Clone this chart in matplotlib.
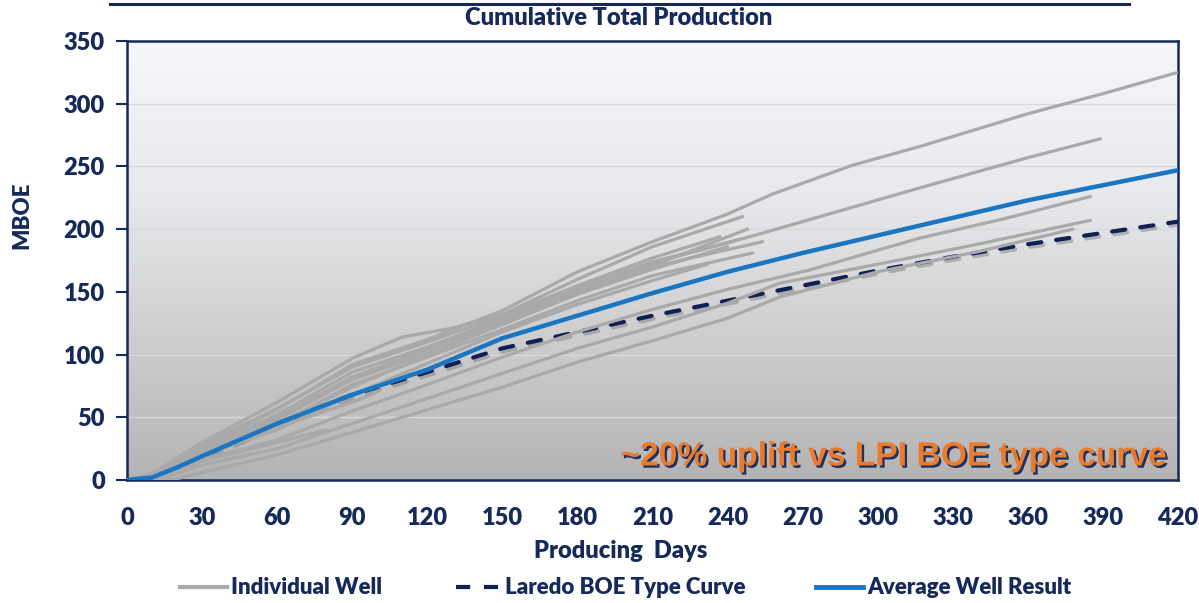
import numpy as np
import matplotlib
matplotlib.use("Agg")
import matplotlib.pyplot as plt
import matplotlib.patheffects as pe
from matplotlib.colors import LinearSegmentedColormap
from matplotlib.lines import Line2D

# ---------------- data ----------------
x_ticks = list(range(0, 421, 30))
y_ticks = list(range(0, 351, 50))

avg_days = [0, 10, 20, 30, 60, 90, 120, 150, 180, 210, 240, 270, 300, 330, 360, 390, 420]
avg_mboe = [0, 2, 10, 19, 45, 68, 88, 113, 131, 149, 166, 181, 195, 209, 223, 235, 247]

type_days = [0, 10, 20, 30, 60, 90, 120, 150, 180, 210, 240, 270, 300, 330, 360, 390, 420]
type_mboe = [0, 2, 10, 19, 45, 68, 86, 105, 118, 131, 143, 155, 167, 178, 188, 197, 206]

well_a_days = [0, 10, 30, 60, 90, 110, 130, 150, 180, 210, 246]
well_a_mboe = [0, 5, 30, 62, 97, 114, 121, 132, 160, 186, 210]
well_b_days = [0, 10, 30, 60, 90, 120, 150, 180, 210, 237]
well_b_mboe = [0, 4, 28, 57, 90, 110, 131, 155, 177, 194]
well_c_days = [0, 10, 30, 60, 90, 120, 150, 180, 210, 254]
well_c_mboe = [0, 3, 24, 50, 82, 104, 126, 150, 170, 190]
well_d_days = [0, 10, 30, 60, 90, 120, 150, 180, 210, 250]
well_d_mboe = [0, 3, 22, 44, 76, 98, 120, 143, 163, 181]
well_e_days = [0, 10, 30, 60, 90, 120, 150, 180, 210, 245]
well_e_mboe = [0, 4, 26, 52, 86, 106, 129, 153, 174, 192]
well_f_days = [0, 10, 30, 60, 90, 120, 150, 180, 210, 240]
well_f_mboe = [0, 3, 22, 45, 74, 100, 124, 148, 168, 186]
well_g_days = [0, 10, 30, 60, 90, 120, 150, 180, 210, 232]
well_g_mboe = [0, 2, 20, 40, 68, 93, 118, 140, 159, 172]
well_h_days = [0, 10, 30, 60, 90, 120, 150, 180, 210, 248]
well_h_mboe = [0, 3, 23, 48, 80, 101, 124, 149, 171, 200]
well_l1_days = [0, 10, 30, 60, 90, 120, 150, 180, 210, 240, 258, 290, 317, 360, 390, 420]
well_l1_mboe = [0, 4, 27, 56, 92, 112, 135, 166, 190, 212, 228, 251, 266, 292, 308, 325]
well_l2_days = [0, 10, 30, 60, 90, 120, 150, 180, 210, 240, 256, 317, 360, 389]
well_l2_mboe = [0, 3, 24, 48, 82, 104, 127, 152, 173, 189, 198, 233, 257, 272]
well_l3_days = [0, 10, 30, 60, 90, 120, 150, 180, 210, 240, 272, 317, 350, 385]
well_l3_mboe = [0, 2, 16, 32, 55, 76, 98, 118, 136, 152, 167, 193, 208, 226]
well_l4_days = [0, 15, 30, 60, 90, 120, 150, 180, 210, 240, 261, 300, 340, 385]
well_l4_mboe = [0, 2, 12, 25, 45, 65, 85, 105, 122, 141, 157, 172, 188, 207]
well_l5_days = [0, 20, 30, 60, 90, 120, 150, 180, 210, 240, 261, 300, 340, 378]
well_l5_mboe = [0, 1, 6, 20, 38, 56, 74, 94, 111, 129, 146, 166, 182, 200]
well_s1_days = [0, 15, 30, 60, 80]
well_s1_mboe = [0, 3, 15, 30, 40]
well_s2_days = [0, 10, 30, 60, 90, 100]
well_s2_mboe = [0, 3, 20, 42, 62, 70]

wells = [
    (well_a_days, well_a_mboe), (well_b_days, well_b_mboe),
    (well_c_days, well_c_mboe), (well_d_days, well_d_mboe),
    (well_e_days, well_e_mboe), (well_f_days, well_f_mboe),
    (well_g_days, well_g_mboe), (well_h_days, well_h_mboe),
    (well_l1_days, well_l1_mboe), (well_l2_days, well_l2_mboe),
    (well_l3_days, well_l3_mboe), (well_l4_days, well_l4_mboe),
    (well_l5_days, well_l5_mboe), (well_s1_days, well_s1_mboe),
    (well_s2_days, well_s2_mboe),
]

title = "Cumulative Total Production"
x_label = "Producing  Days"
y_label = "MBOE"
annotation = "~20% uplift vs LPI BOE type curve"
legend_labels = ["Individual Well", "Laredo BOE Type Curve", "Average Well Result"]

# ---------------- style ----------------
NAVY = "#15295a"
GRAY = "#a9a9a9"
BLUE = "#1b76c2"
DASH = "#0f2055"
ORANGE = "#ea7b2c"
FONT = ["Lato", "DejaVu Sans"]
W, H = 1199, 603

plt.rcParams["font.family"] = FONT

fig = plt.figure(figsize=(W / 100, H / 100), dpi=100)
fig.patch.set_facecolor("white")
ax = fig.add_axes([127 / W, 1 - 480 / H, (1178 - 127) / W, (480 - 41) / H])

# gradient background
cmap = LinearSegmentedColormap.from_list(
    "bg", [(0.0, "#b4b4b5"), (0.35, "#d0d0d2"), (0.65, "#e8e9ec"), (1.0, "#f6f7fa")])
grad = np.linspace(0, 1, 256).reshape(-1, 1)
ax.imshow(grad, cmap=cmap, aspect="auto", origin="lower",
          extent=[0, 420, 0, 350], zorder=0, interpolation="bicubic")

for yv in y_ticks[1:-1]:
    ax.axhline(yv, color="#d9d9dc", lw=1.0, zorder=1)

# type curve (with shadow)
ax.plot(type_days, type_mboe, color=DASH, lw=3.0, ls=(0, (3.2, 3.6)),
        dash_capstyle="round", zorder=2,
        path_effects=[pe.SimpleLineShadow(offset=(1.5, -2), shadow_color="#777777", alpha=0.45),
                      pe.Normal()])

for d, v in wells:
    ax.plot(d, v, color=GRAY, lw=2.3, zorder=3, solid_capstyle="round")

ax.plot(avg_days, avg_mboe, color=BLUE, lw=3.2, zorder=4, solid_capstyle="round")

ax.set_xlim(0, 420)
ax.set_ylim(0, 350)
ax.set_xticks(x_ticks)
ax.set_yticks(y_ticks)
ax.tick_params(axis="x", length=0, pad=19.5, labelsize=17, labelcolor=NAVY)
ax.tick_params(axis="y", length=8, width=1.5, color=NAVY, pad=8, labelsize=17, labelcolor=NAVY)
for lab in ax.get_xticklabels() + ax.get_yticklabels():
    lab.set_fontweight("heavy")
for s in ax.spines.values():
    s.set_color(NAVY)
    s.set_linewidth(1.8)

# annotation
txt = ax.text(416, 6, annotation, ha="right", va="bottom", fontsize=24.2,
              fontweight="bold", color=ORANGE,
              family=["Liberation Sans", "DejaVu Sans"], zorder=6)
txt.set_path_effects([pe.withSimplePatchShadow(offset=(1.6, -1.6), shadow_rgbFace=NAVY, alpha=0.95)])

# title and top rule
fig.add_artist(Line2D([110 / W, 1129 / W], [1 - 4 / H, 1 - 4 / H],
                      color=NAVY, lw=2.2, transform=fig.transFigure))
fig.text(619 / W, 1 - 18 / H, title, ha="center", va="center",
         fontsize=17, fontweight="heavy", color=NAVY)

fig.text(22 / W, 1 - 215 / H, y_label, ha="center", va="center", rotation=90,
         fontsize=16, fontweight="heavy", color=NAVY)
fig.text(621 / W, 1 - 551 / H, x_label, ha="center", va="center",
         fontsize=17, fontweight="heavy", color=NAVY)

# legend: three entries placed like the original
handles = [
    Line2D([], [], color=GRAY, lw=3),
    Line2D([], [], color=DASH, lw=3, ls=(0, (3.4, 3.3))),
    Line2D([], [], color=BLUE, lw=3.5),
]
handle_x = [180, 456, 816]
handle_len = [2.1, 2.0, 2.1]
for h, lab, hx, hl in zip(handles, legend_labels, handle_x, handle_len):
    leg = fig.legend([h], [lab], loc="center left", bbox_to_anchor=(hx / W, 1 - 588 / H),
                     frameon=False, handlelength=hl, handletextpad=0.2,
                     borderpad=0, borderaxespad=0,
                     prop={"family": FONT, "weight": "heavy", "size": 16})
    for t in leg.get_texts():
        t.set_color(NAVY)

fig.savefig("out.png", dpi=100, facecolor="white")
